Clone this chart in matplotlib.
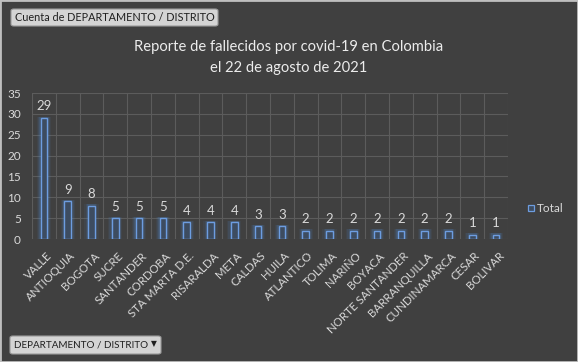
import matplotlib.pyplot as plt
from matplotlib.patches import FancyBboxPatch, Rectangle

categorias = ['VALLE', 'ANTIOQUIA', 'BOGOTA', 'SUCRE', 'SANTANDER', 'CORDOBA',
              'STA MARTA D.E.', 'RISARALDA', 'META', 'CALDAS', 'HUILA', 'ATLANTICO',
              'TOLIMA', 'NARIÑO', 'BOYACA', 'NORTE SANTANDER', 'BARRANQUILLA',
              'CUNDINAMARCA', 'CESAR', 'BOLIVAR']
total = [29, 9, 8, 5, 5, 5, 4, 4, 4, 3, 3, 2, 2, 2, 2, 2, 2, 2, 1, 1]
y_ticks = [0, 5, 10, 15, 20, 25, 30, 35]

bg = '#404040'
txt = '#d9d9d9'
plt.rcParams['font.family'] = ['Lato', 'DejaVu Sans']

W, H = 578, 362
fig = plt.figure(figsize=(W / 100, H / 100), dpi=100, facecolor=bg)

# plot area in pixels: x 32..508, y 93..239
ax = fig.add_axes([32 / W, 1 - 239 / H, 476 / W, 146 / H], facecolor=bg)
x = list(range(len(categorias)))

# glow behind the bars
for w, a in [(0.6, 0.08), (0.5, 0.12), (0.4, 0.18)]:
    ax.bar(x, [v + 0.35 for v in total], width=w, color='#4f86c6', alpha=a,
           linewidth=0, zorder=2)
bars = ax.bar(x, total, width=0.27, facecolor='#3d4c60', edgecolor='#6d9de0',
              linewidth=1.0, zorder=3)

for xi, v in zip(x, total):
    ax.annotate(str(v), (xi, v), xytext=(0, 4), textcoords='offset points',
                ha='center', va='bottom', color=txt, fontsize=9.5)

ax.set_xlim(-0.5, len(categorias) - 0.5)
ax.set_ylim(0, 35)
ax.set_yticks(y_ticks)
ax.set_xticks([i + 0.5 for i in x[:-1]], minor=False)
ax.set_xticklabels([])
ax.tick_params(axis='both', length=0, colors=txt, labelsize=8.5)
ax.tick_params(axis='y', pad=8)
ax.grid(True, color='#5c5c5c', linewidth=0.8, zorder=0)
for s in ax.spines.values():
    s.set_visible(False)
ax.axvline(-0.5, color='#5c5c5c', linewidth=0.8, zorder=0)
ax.axvline(len(categorias) - 0.5, color='#5c5c5c', linewidth=0.8, zorder=0)

for xi, c in zip(x, categorias):
    ax.annotate(c, (xi, 0), xytext=(1.5, -8), textcoords='offset points',
                ha='right', va='top', rotation=45, rotation_mode='anchor',
                color=txt, fontsize=8.3)

fig.text(289 / W, 1 - 47 / H, 'Reporte de fallecidos por covid-19 en Colombia',
         ha='center', va='center', color='#ececec', fontsize=10.6)
fig.text(289 / W, 1 - 68 / H, 'el 22 de agosto de 2021',
         ha='center', va='center', color='#ececec', fontsize=10.6)

# legend
fig.patches.append(Rectangle((528 / W, 1 - 211 / H), 6 / W, 6 / H, transform=fig.transFigure,
                             facecolor='#3d4c60', edgecolor='#6d9de0', linewidth=0.9))
fig.text(537 / W, 1 - 208 / H, 'Total', ha='left', va='center', color=txt, fontsize=8.5)

# field buttons
for x0, y0, w, h, label, fs in [(11, 9, 207, 17, 'Cuenta de DEPARTAMENTO / DISTRITO', 7.8),
                                (10, 336, 151, 18, 'DEPARTAMENTO / DISTRITO', 7.1)]:
    fig.patches.append(FancyBboxPatch((x0 / W, 1 - (y0 + h) / H), w / W, h / H,
                                      boxstyle='round,pad=0,rounding_size=0.005',
                                      transform=fig.transFigure, facecolor='#d4d4d4',
                                      edgecolor='#9a9a9a', linewidth=0.8))
    fig.text((x0 + 4) / W, 1 - (y0 + h / 2) / H, label, ha='left', va='center',
             color='#202020', fontsize=fs)
fig.text(154 / W, 1 - 344 / H, '\u25BC', ha='center', va='center', color='#202020',
         fontsize=5.5, family=['DejaVu Sans'])

# outer border
fig.patches.append(Rectangle((0, 0), 1, 1, transform=fig.transFigure, fill=False,
                             edgecolor='#bfbfbf', linewidth=2))

fig.savefig('out.png', dpi=100, facecolor=bg)
